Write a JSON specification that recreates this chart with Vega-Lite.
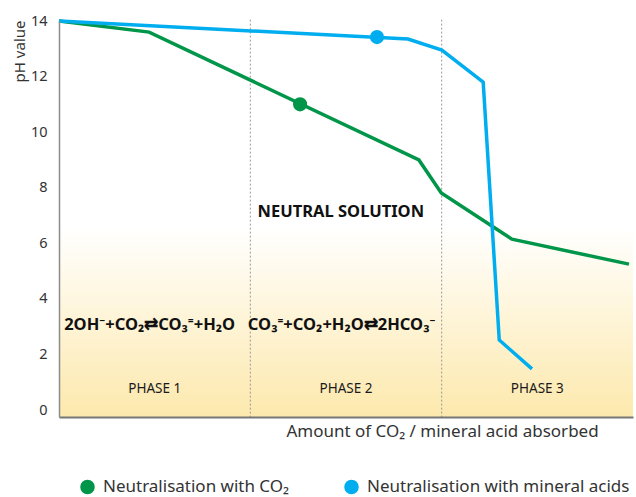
{
  "$schema": "https://vega.github.io/schema/vega-lite/v6.json",
  "width": 574,
  "height": 396,
  "autosize": {"type": "none"},
  "padding": {"left": 59, "top": 21, "right": 3, "bottom": 80},
  "config": {
    "font": "Noto Sans",
    "view": {"stroke": null}
  },
  "datasets": {
    "curves": [
      {"series": "Neutralisation with CO₂", "x": 0, "ph": 14.0},
      {"series": "Neutralisation with CO₂", "x": 15.7, "ph": 13.6},
      {"series": "Neutralisation with CO₂", "x": 62.7, "ph": 9.0},
      {"series": "Neutralisation with CO₂", "x": 66.6, "ph": 7.81},
      {"series": "Neutralisation with CO₂", "x": 78.9, "ph": 6.15},
      {"series": "Neutralisation with CO₂", "x": 99.3, "ph": 5.25},
      {"series": "Neutralisation with mineral acids", "x": 0, "ph": 14.0},
      {"series": "Neutralisation with mineral acids", "x": 60.8, "ph": 13.35},
      {"series": "Neutralisation with mineral acids", "x": 66.7, "ph": 12.95},
      {"series": "Neutralisation with mineral acids", "x": 73.9, "ph": 11.8},
      {"series": "Neutralisation with mineral acids", "x": 76.7, "ph": 2.52},
      {"series": "Neutralisation with mineral acids", "x": 82.4, "ph": 1.48}
    ],
    "dots": [
      {"series": "Neutralisation with CO₂", "x": 42.0, "ph": 11.0},
      {"series": "Neutralisation with mineral acids", "x": 55.4, "ph": 13.42}
    ],
    "phases": [
      {"label": "PHASE 1", "x": 16.67, "ph": 0.76},
      {"label": "PHASE 2", "x": 50, "ph": 0.76},
      {"label": "PHASE 3", "x": 83.33, "ph": 0.76}
    ],
    "dividers": [
      {"x": 33.33, "top": 14.05, "bottom": -0.25},
      {"x": 66.67, "top": 14.05, "bottom": -0.25}
    ],
    "band": [
      {"x0": 0, "x1": 100, "y0": -0.25, "y1": 6.6}
    ],
    "formulas": [
      {"text": "2OH⁻+CO₂⇄CO₃⁼+H₂O", "x": 0.9, "ph": 3.06},
      {"text": "CO₃⁼+CO₂+H₂O⇄2HCO₃⁻", "x": 32.9, "ph": 3.06}
    ],
    "neutral": [
      {"text": "NEUTRAL SOLUTION", "x": 49.1, "ph": 7.12}
    ]
  },
  "layer": [
    {
      "data": {"name": "band"},
      "mark": {
        "type": "rect",
        "fill": {
          "gradient": "linear",
          "x1": 0, "y1": 0, "x2": 0, "y2": 1,
          "stops": [
            {"offset": 0, "color": "#ffffff"},
            {"offset": 1, "color": "#fde9ad"}
          ]
        }
      },
      "encoding": {
        "x": {"field": "x0", "type": "quantitative", "scale": {"domain": [0, 100]},
          "axis": {
            "labels": false, "ticks": false, "grid": false, "zindex": 1,
            "domainColor": "#777777", "domainWidth": 2,
            "title": "Amount of CO₂ / mineral acid absorbed",
            "titleFontSize": 17, "titleFontWeight": "normal", "titleColor": "#333333",
            "titleX": 383, "titleY": 6, "titleAlign": "center", "titleBaseline": "top"
          }
        },
        "x2": {"field": "x1"},
        "y": {"field": "y0", "type": "quantitative", "scale": {"domain": [-0.25, 14], "nice": false, "zero": false},
          "axis": {
            "values": [0, 2, 4, 6, 8, 10, 12, 14],
            "ticks": false, "grid": false, "zindex": 1,
            "domainColor": "#8c8c8c", "domainWidth": 1.5,
            "labelFontSize": 14.5, "labelColor": "#333333", "labelPadding": 12,
            "title": "pH value", "titleFontSize": 15, "titleFontWeight": "normal", "titleColor": "#333333",
            "titleAnchor": "end", "titleAngle": -90, "titleX": -40, "titleY": -1, "titleAlign": "right", "titleBaseline": "middle"
          }
        },
        "y2": {"field": "y1"}
      }
    },
    {
      "data": {"name": "dividers"},
      "mark": {"type": "rule", "color": "#999999", "strokeWidth": 1, "strokeDash": [2, 2]},
      "encoding": {
        "x": {"field": "x", "type": "quantitative"},
        "y": {"field": "top", "type": "quantitative"},
        "y2": {"field": "bottom"}
      }
    },
    {
      "data": {"name": "phases"},
      "mark": {"type": "text", "fontSize": 13.5, "color": "#1a1a1a", "align": "center", "baseline": "middle"},
      "encoding": {
        "x": {"field": "x", "type": "quantitative"},
        "y": {"field": "ph", "type": "quantitative"},
        "text": {"field": "label"}
      }
    },
    {
      "data": {"name": "formulas"},
      "mark": {"type": "text", "fontSize": 16.5, "fontWeight": "bold", "color": "#111111", "align": "left", "baseline": "middle"},
      "encoding": {
        "x": {"field": "x", "type": "quantitative"},
        "y": {"field": "ph", "type": "quantitative"},
        "text": {"field": "text"}
      }
    },
    {
      "data": {"name": "neutral"},
      "mark": {"type": "text", "fontSize": 16.5, "fontWeight": "bold", "color": "#111111", "align": "center", "baseline": "middle"},
      "encoding": {
        "x": {"field": "x", "type": "quantitative"},
        "y": {"field": "ph", "type": "quantitative"},
        "text": {"field": "text"}
      }
    },
    {
      "data": {"name": "curves"},
      "mark": {"type": "line", "strokeWidth": 3.5, "strokeJoin": "miter"},
      "encoding": {
        "x": {"field": "x", "type": "quantitative"},
        "y": {"field": "ph", "type": "quantitative"},
        "color": {"field": "series", "type": "nominal",
          "scale": {"domain": ["Neutralisation with CO₂", "Neutralisation with mineral acids"], "range": ["#00964a", "#00aeef"]}}
      }
    },
    {
      "data": {"name": "dots"},
      "mark": {"type": "circle", "size": 200, "opacity": 1},
      "encoding": {
        "x": {"field": "x", "type": "quantitative"},
        "y": {"field": "ph", "type": "quantitative"},
        "color": {"field": "series", "type": "nominal",
          "legend": {
            "title": null, "orient": "none", "direction": "horizontal",
            "legendX": 20, "legendY": 457,
            "symbolType": "circle", "symbolSize": 170,
            "labelFontSize": 17, "labelColor": "#333333", "labelOffset": 7, "labelLimit": 300,
            "columnPadding": 52
          }
        }
      }
    }
  ]
}
